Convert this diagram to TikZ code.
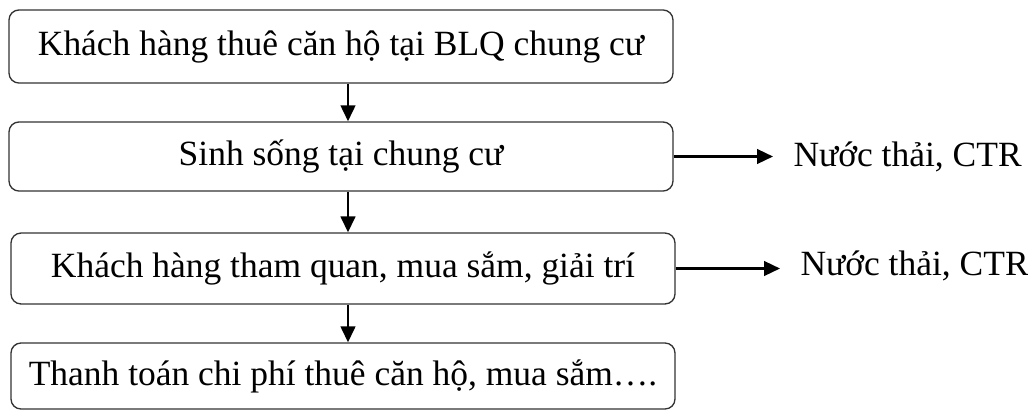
\documentclass[tikz,border=0pt]{standalone}
\usepackage{fontspec}
\setmainfont{Liberation Serif}
\usetikzlibrary{arrows.meta}

\tikzset{
  stepbox/.style={draw=black!80, line width=0.5pt, rounded corners=3.75pt,
    minimum width=249pt, inner sep=0pt, font=\fontsize{13.3}{16}\selectfont},
  flow/.style={-{Triangle[length=6pt,width=5.5pt]}, line width=0.9pt},
  waste/.style={anchor=west, inner sep=0pt, font=\fontsize{13.3}{16}\selectfont}
}

\begin{document}
\begin{tikzpicture}[x=0.375pt,y=-0.375pt]
\useasboundingbox (0,0) rectangle (1028,411);

% Steps
\node[stepbox,minimum height=27.4pt] (rent) at (341,46.5) {Khách hàng thuê căn hộ tại BLQ chung cư};
\node[stepbox,minimum height=25.9pt] (live) at (341,156.5) {Sinh sống tại chung cư};
\node[stepbox,minimum height=26.6pt] (shop) at (343,268.5) {Khách hàng tham quan, mua sắm, giải trí};
\node[stepbox,minimum height=24.75pt] (pay) at (343,376) {Thanh toán chi phí thuê căn hộ, mua sắm….};

% Waste outputs
\node[waste] (wasteA) at (793,157) {Nước thải, CTR};
\node[waste] (wasteB) at (800,266) {Nước thải, CTR};

% Arrows
\coordinate (axis) at (348,0);
\draw[flow] (rent.south -| axis) -- (live.north -| axis);
\draw[flow] (live.south -| axis) -- (shop.north -| axis);
\draw[flow] (shop.south -| axis) -- (pay.north -| axis);
\draw[flow,shorten >=7.5pt] (live.east) -- (live.east -| wasteA.west);
\draw[flow,shorten >=7.5pt] (shop.east) -- (shop.east -| wasteB.west);
\end{tikzpicture}
\end{document}
